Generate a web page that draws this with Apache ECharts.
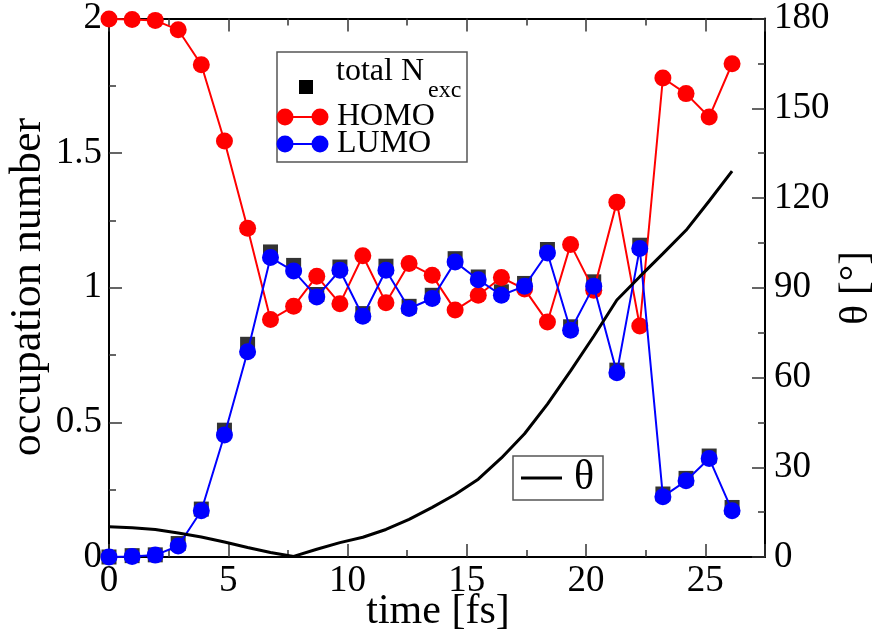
<!DOCTYPE html>
<html>
<head>
<meta charset="utf-8">
<script src="https://cdn.jsdelivr.net/npm/echarts@6.0.0/dist/echarts.min.js"></script>
<style>
  html, body { margin: 0; padding: 0; background: #fff; }
  #chart { width: 877px; height: 639px; }
</style>
</head>
<body>
<div id="chart"></div>
<script>
// Sample times in fs
const times = [0, 0.97, 1.94, 2.90, 3.87, 4.84, 5.81, 6.77, 7.74, 8.71, 9.68, 10.64, 11.61, 12.58,
  13.55, 14.51, 15.48, 16.45, 17.42, 18.38, 19.35, 20.32, 21.29, 22.25, 23.22, 24.19, 25.16, 26.12];

// Occupation numbers
const homo = [1.998, 1.996, 1.993, 1.958, 1.828, 1.545, 1.221, 0.882, 0.931, 1.043, 0.941, 1.119, 0.944, 1.090,
  1.046, 0.917, 0.972, 1.038, 0.995, 0.873, 1.161, 0.991, 1.318, 0.858, 1.779, 1.721, 1.634, 1.832];
const lumo = [0.000, 0.002, 0.007, 0.041, 0.172, 0.453, 0.762, 1.112, 1.062, 0.966, 1.065, 0.894, 1.065, 0.923,
  0.960, 1.096, 1.030, 0.972, 1.006, 1.129, 0.842, 1.006, 0.684, 1.146, 0.224, 0.283, 0.366, 0.172];
const nExc = [0.000, 0.005, 0.008, 0.050, 0.178, 0.471, 0.790, 1.133, 1.083, 0.975, 1.077, 0.904, 1.080, 0.931,
  0.972, 1.108, 1.040, 0.985, 1.016, 1.142, 0.855, 1.022, 0.694, 1.158, 0.234, 0.292, 0.375, 0.184];

// Angle theta in degrees
const theta = [10.1, 9.8, 9.2, 8.0, 6.7, 5.0, 3.2, 1.5, 0.2, 2.6, 4.8, 6.6, 9.2, 12.6,
  16.6, 20.9, 26.0, 33.1, 41.2, 51.1, 62.2, 73.8, 85.9, 93.7, 101.4, 109.2, 119.0, 129.0];

// Axis settings
const xTicks = { min: 0, max: 27.5, major: 5, minor: 2.5 };
const occTicks = { min: 0, max: 2, major: 0.5 };
const angTicks = { min: 0, max: 180, major: 30 };

const SERIF = 'Liberation Serif';
const pair = (xs, ys) => xs.map((x, i) => [x, ys[i]]);

const chart = echarts.init(document.getElementById('chart'), null, { renderer: 'canvas' });

const tickStyle = { color: '#333', width: 1.5 };
const axisLineStyle = { color: '#000', width: 2 };

function xAxisDef(position, interval, tickLen, withLine, withLabels) {
  return {
    type: 'value', position: position,
    min: xTicks.min, max: xTicks.max, interval: interval,
    axisLine: { show: withLine, onZero: false, lineStyle: axisLineStyle },
    axisTick: { show: true, inside: true, length: tickLen, lineStyle: tickStyle },
    axisLabel: withLabels ? {
      show: true, fontFamily: SERIF, fontSize: 37, color: '#000', margin: 6,
      formatter: v => (Math.abs(v % xTicks.major) < 1e-9 ? String(v) : '')
    } : { show: false },
    splitLine: { show: false }
  };
}

const option = {
  animation: false,
  backgroundColor: '#fff',
  grid: { left: 109, right: 112, top: 18, bottom: 82, containLabel: false },
  xAxis: [
    xAxisDef('bottom', xTicks.major, 13, true, true),
    xAxisDef('bottom', xTicks.minor, 7, false, false),
    xAxisDef('top', xTicks.major, 13, true, false),
    xAxisDef('top', xTicks.minor, 7, false, false)
  ],
  yAxis: [
    {
      type: 'value', position: 'left',
      min: occTicks.min, max: occTicks.max, interval: occTicks.major,
      axisLine: { show: true, onZero: false, lineStyle: axisLineStyle },
      axisTick: { show: true, inside: true, length: 13, lineStyle: tickStyle },
      minorTick: { show: true, splitNumber: 2, length: 7, lineStyle: tickStyle },
      axisLabel: { fontFamily: SERIF, fontSize: 37, color: '#000', margin: 7 },
      splitLine: { show: false }
    },
    {
      type: 'value', position: 'right',
      min: angTicks.min, max: angTicks.max, interval: angTicks.major,
      axisLine: { show: true, onZero: false, lineStyle: axisLineStyle },
      axisTick: { show: true, inside: true, length: 13, lineStyle: tickStyle },
      minorTick: { show: true, splitNumber: 2, length: 7, lineStyle: tickStyle },
      axisLabel: { fontFamily: SERIF, fontSize: 37, color: '#000', margin: 9 },
      splitLine: { show: false }
    }
  ],
  series: [
    {
      name: 'total N_exc', type: 'scatter', xAxisIndex: 0, yAxisIndex: 0,
      data: pair(times, nExc), symbol: 'rect', symbolSize: 15,
      itemStyle: { color: '#000' }, z: 2
    },
    {
      name: 'HOMO', type: 'line', xAxisIndex: 0, yAxisIndex: 0,
      data: pair(times, homo), symbol: 'circle', symbolSize: 17, showSymbol: true,
      lineStyle: { color: '#ff0000', width: 2 }, itemStyle: { color: '#ff0000' }, z: 3
    },
    {
      name: 'LUMO', type: 'line', xAxisIndex: 0, yAxisIndex: 0,
      data: pair(times, lumo), symbol: 'circle', symbolSize: 17, showSymbol: true,
      lineStyle: { color: '#0000ff', width: 2 }, itemStyle: { color: '#0000ff' }, z: 4
    },
    {
      name: 'θ', type: 'line', xAxisIndex: 0, yAxisIndex: 1,
      data: pair(times, theta), symbol: 'none',
      lineStyle: { color: '#000', width: 3 }, z: 5
    }
  ],
  graphic: [
    // axis titles
    { type: 'text', x: 438, y: 612, z: 10,
      style: { text: 'time [fs]', font: '42px ' + SERIF, fill: '#000', align: 'center', verticalAlign: 'middle' } },
    { type: 'text', x: 28, y: 287, rotation: Math.PI / 2, z: 10,
      style: { text: 'occupation number', font: '44px ' + SERIF, fill: '#000', align: 'center', verticalAlign: 'middle' } },
    { type: 'text', x: 856, y: 288, rotation: Math.PI / 2, z: 10,
      style: { text: 'θ [°]', font: '41px ' + SERIF, fill: '#000', align: 'center', verticalAlign: 'middle' } },

    // key for the occupation series
    { type: 'rect', shape: { x: 277, y: 52, width: 190, height: 110 }, z: 20,
      style: { fill: '#fff', stroke: '#555', lineWidth: 1.5 } },
    { type: 'rect', shape: { x: 299, y: 80, width: 14, height: 14 }, z: 21, style: { fill: '#000' } },
    { type: 'text', x: 336, y: 72, z: 21,
      style: { text: 'total N', font: '32px ' + SERIF, fill: '#000', verticalAlign: 'middle' } },
    { type: 'text', x: 428, y: 91, z: 21,
      style: { text: 'exc', font: '24px ' + SERIF, fill: '#000', verticalAlign: 'middle' } },
    { type: 'line', shape: { x1: 285, y1: 117, x2: 320, y2: 117 }, z: 21, style: { stroke: '#ff0000', lineWidth: 2 } },
    { type: 'circle', shape: { cx: 285, cy: 117, r: 8.5 }, z: 21, style: { fill: '#ff0000' } },
    { type: 'circle', shape: { cx: 320, cy: 117, r: 8.5 }, z: 21, style: { fill: '#ff0000' } },
    { type: 'text', x: 337, y: 117, z: 21,
      style: { text: 'HOMO', font: '32px ' + SERIF, fill: '#000', verticalAlign: 'middle' } },
    { type: 'line', shape: { x1: 285, y1: 144, x2: 320, y2: 144 }, z: 21, style: { stroke: '#0000ff', lineWidth: 2 } },
    { type: 'circle', shape: { cx: 285, cy: 144, r: 8.5 }, z: 21, style: { fill: '#0000ff' } },
    { type: 'circle', shape: { cx: 320, cy: 144, r: 8.5 }, z: 21, style: { fill: '#0000ff' } },
    { type: 'text', x: 337, y: 144, z: 21,
      style: { text: 'LUMO', font: '32px ' + SERIF, fill: '#000', verticalAlign: 'middle' } },

    // key for the angle curve
    { type: 'rect', shape: { x: 513, y: 456, width: 90, height: 44 }, z: 20,
      style: { fill: '#fff', stroke: '#555', lineWidth: 1.5 } },
    { type: 'line', shape: { x1: 521, y1: 478, x2: 562, y2: 478 }, z: 21, style: { stroke: '#000', lineWidth: 3 } },
    { type: 'text', x: 574, y: 478, z: 21,
      style: { text: 'θ', font: '42px ' + SERIF, fill: '#000', verticalAlign: 'middle' } }
  ]
};

chart.setOption(option);
</script>
</body>
</html>
